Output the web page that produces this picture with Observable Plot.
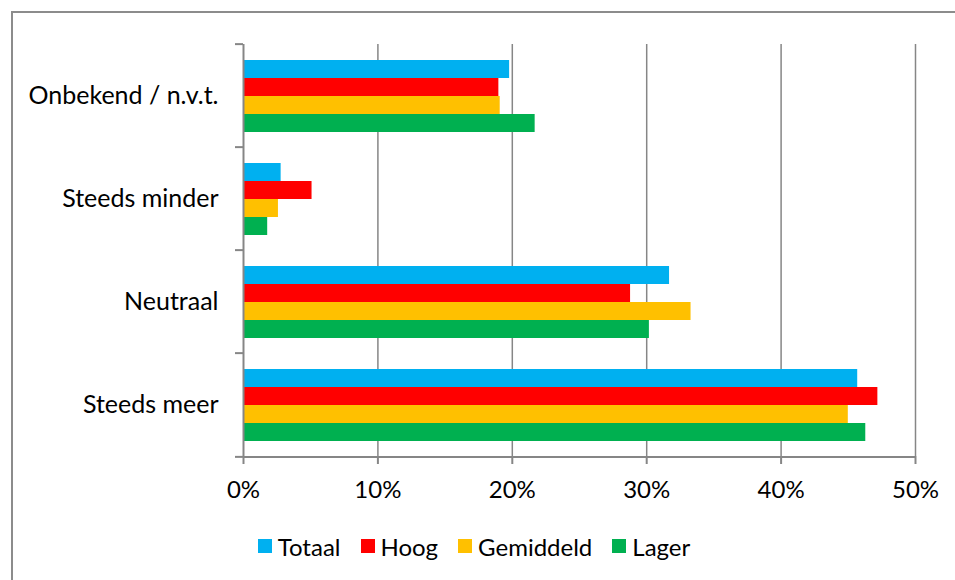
<!DOCTYPE html>
<html>
<head>
<meta charset="utf-8">
<script src="https://cdn.jsdelivr.net/npm/d3@7"></script>
<script src="https://cdn.jsdelivr.net/npm/@observablehq/plot@0.6"></script>
<style>
  html, body { margin: 0; padding: 0; background: #fff; }
  #wrap { position: relative; width: 955px; height: 580px; overflow: hidden; font-family: Lato, "Open Sans", sans-serif; }
  #border { position: absolute; left: 11px; top: 11px; width: 1000px; height: 700px; border-left: 2px solid #8c8c8c; border-top: 2px solid #8c8c8c; box-sizing: border-box; pointer-events: none; }
  #chart { position: absolute; left: 0; top: 0; }
  #legend { position: absolute; left: 0; top: 518px; width: 948px; height: 56px; display: flex; justify-content: center; align-items: center; font-size: 24px; color: #000; }
  .item { display: flex; align-items: center; margin: 0 10px; }
  .sw { width: 14px; height: 14px; margin-right: 6px; }
</style>
</head>
<body>
<div id="wrap">
  <div id="chart"></div>
  <div id="legend"></div>
  <div id="border"></div>
</div>
<script>
// Categories top to bottom
const categories = ["Onbekend / n.v.t.", "Steeds minder", "Neutraal", "Steeds meer"];
const series = ["Totaal", "Hoog", "Gemiddeld", "Lager"];
const colors = ["#00B0F0", "#FF0000", "#FFC000", "#00B050"];
// values in %, per category (same order as categories), per series
const totaal    = [19.8, 2.8, 31.7, 45.7];
const hoog      = [19.0, 5.1, 28.8, 47.2];
const gemiddeld = [19.1, 2.6, 33.3, 45.0];
const lager     = [21.7, 1.8, 30.2, 46.3];
const xTicks = [0, 10, 20, 30, 40, 50];

const seriesValues = [totaal, hoog, gemiddeld, lager];
const data = [];
categories.forEach((c, ci) => {
  series.forEach((s, si) => data.push({cat: c, series: s, value: seriesValues[si][ci]}));
});

const W = 955, H = 520, MT = 42, MB = 63, ML = 243, MR = 40;
const bandH = (H - MT - MB) / categories.length;
const gray = "#868686";

const chart = Plot.plot({
  width: W, height: H,
  marginTop: MT, marginBottom: MB, marginLeft: ML, marginRight: MR,
  style: {fontFamily: "Lato, 'Open Sans', sans-serif", fontSize: "24px", color: "#000", background: "transparent"},
  x: {domain: [0, 50], ticks: xTicks, tickFormat: d => d + "%"},
  y: {domain: series, axis: null, paddingInner: 0, paddingOuter: 0.773},
  fy: {domain: categories, padding: 0, label: null},
  color: {domain: series, range: colors},
  marks: [
    Plot.gridX({ticks: xTicks.slice(1), stroke: gray, strokeOpacity: 1, strokeWidth: 1.5}),
    Plot.barX(data, {fy: "cat", y: "series", x: "value", fill: "series"}),
    Plot.ruleX([0], {stroke: gray, strokeWidth: 2}),
    Plot.gridFy({ticks: [categories[categories.length - 1]], dy: bandH / 2, stroke: gray, strokeOpacity: 1, strokeWidth: 2}),
    Plot.axisFy({anchor: "left", tickSize: 8, tickFormat: () => "", dy: -bandH / 2, stroke: gray, strokeWidth: 2}),
    Plot.axisFy({anchor: "left", ticks: [categories[categories.length - 1]], tickSize: 8, tickFormat: () => "", dy: bandH / 2, stroke: gray, strokeWidth: 2}),
    Plot.axisFy({anchor: "left", tickSize: 0, tickPadding: 25, fontSize: "25px", fill: "#000", label: null}),
    Plot.axisX({anchor: "bottom", ticks: xTicks, tickFormat: d => d + "%", tickSize: 8, tickPadding: 16, stroke: gray, strokeWidth: 2, fontSize: "24px", fill: "#000", label: null})
  ]
});
document.getElementById("chart").appendChild(chart);

const legend = document.getElementById("legend");
series.forEach((s, i) => {
  const item = document.createElement("div");
  item.className = "item";
  const sw = document.createElement("div");
  sw.className = "sw";
  sw.style.background = colors[i];
  const t = document.createElement("span");
  t.textContent = s;
  item.appendChild(sw);
  item.appendChild(t);
  legend.appendChild(item);
});
</script>
</body>
</html>
